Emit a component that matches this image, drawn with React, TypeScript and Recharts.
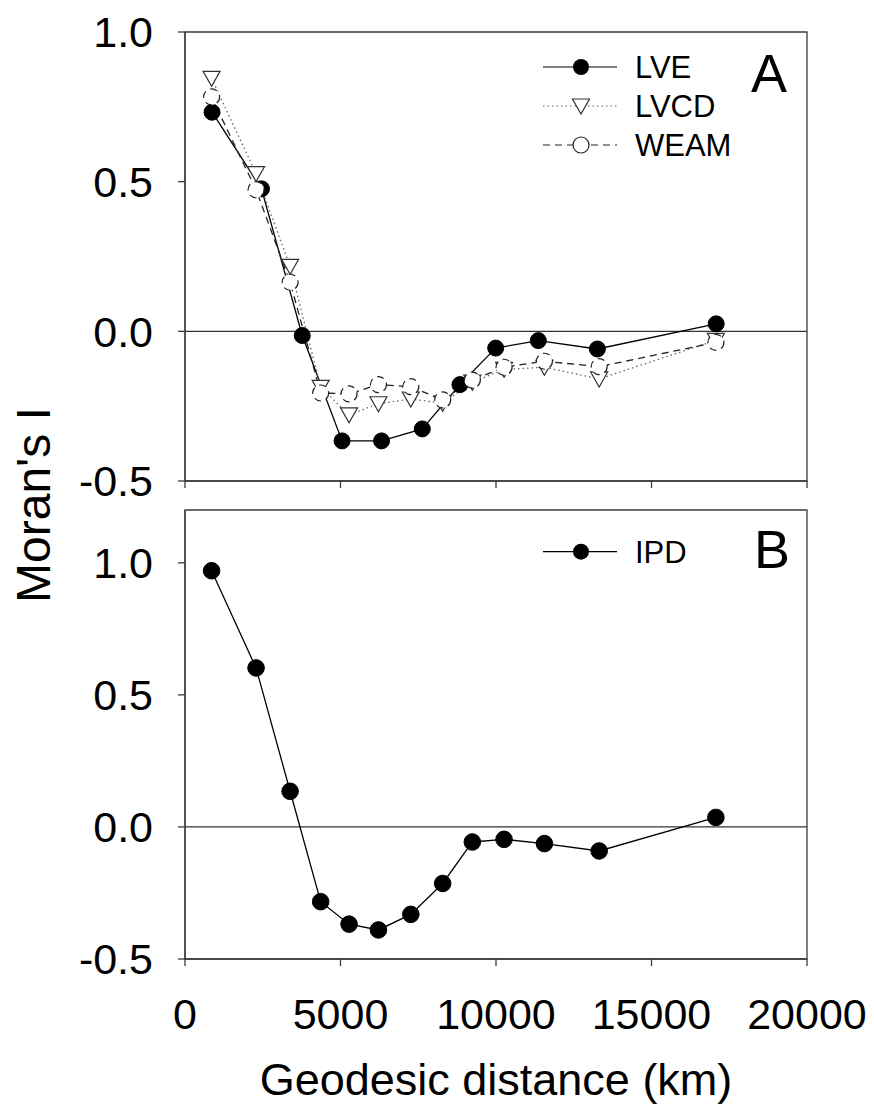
import React from 'react';
import {
  LineChart, Line, XAxis, YAxis, ReferenceLine, ReferenceArea, Legend,
} from 'recharts';

const FONT = '"Liberation Sans", Arial, Helvetica, sans-serif';

// distance classes (km)
const DIST_LVE = [870, 2460, 3770, 5050, 6320, 7630, 8840, 9990, 11360, 13260, 17080];
const DIST_13 = [855, 2285, 3380, 4362, 5275, 6220, 7260, 8285, 9239, 10259, 11557, 13317, 17070];

// Panel A series
const LVE = [0.732, 0.476, -0.014, -0.366, -0.366, -0.326, -0.178, -0.056, -0.031, -0.059, 0.025];
const LVCD = [0.845, 0.527, 0.217, -0.187, -0.279, -0.242, -0.226, -0.24, -0.17, -0.127, -0.12, -0.159, -0.03];
const WEAM = [0.783, 0.473, 0.164, -0.206, -0.209, -0.178, -0.185, -0.229, -0.163, -0.12, -0.1, -0.118, -0.037];

// Panel B series
const IPD = [0.97, 0.602, 0.135, -0.283, -0.368, -0.39, -0.331, -0.214, -0.057, -0.047, -0.063, -0.091, 0.036];

const X_TICKS = [0, 5000, 10000, 15000, 20000];
const Y_TICKS = [-0.5, 0, 0.5, 1];

const toPts = (xs: number[], ys: number[]) => xs.map((x, i) => ({ x, y: ys[i] }));

const lveData = toPts(DIST_LVE, LVE);
const lvcdData = toPts(DIST_13, LVCD);
const weamData = toPts(DIST_13, WEAM);
const ipdData = toPts(DIST_13, IPD);

const AXIS = '#3c3c3c';

const triPath = (cx: number, cy: number) =>
  `M${cx - 8.5},${cy - 7} L${cx + 8.5},${cy - 7} L${cx},${cy + 8} Z`;

const TriDot = (props: any) => {
  const { cx, cy, index } = props;
  if (cx == null || cy == null) return <g key={`t${index}`} />;
  return <path key={`t${index}`} d={triPath(cx, cy)} fill="#fff" stroke="#333" strokeWidth={1.2} />;
};

const legendA = () => {
  const rows = [
    { name: 'LVE', dash: undefined, stroke: '#000', kind: 'filled' },
    { name: 'LVCD', dash: '1.5 3', stroke: '#666', kind: 'tri' },
    { name: 'WEAM', dash: '7 5', stroke: '#222', kind: 'open' },
  ];
  return (
    <svg width={260} height={140} style={{ display: 'block' }}>
      {rows.map((r, i) => {
        const y = 27 + i * 39;
        return (
          <g key={r.name}>
            <line x1={8} x2={82} y1={y} y2={y} stroke={r.stroke} strokeWidth={1.2} strokeDasharray={r.dash} />
            {r.kind === 'filled' && <circle cx={46} cy={y} r={8} fill="#000" />}
            {r.kind === 'open' && <circle cx={46} cy={y} r={8} fill="#fff" stroke="#222" strokeWidth={1.2} />}
            {r.kind === 'tri' && <path d={triPath(46, y)} fill="#fff" stroke="#333" strokeWidth={1.2} />}
            <text x={100} y={y + 11.3} fontSize={31} fontFamily={FONT} fill="#000">{r.name}</text>
          </g>
        );
      })}
    </svg>
  );
};

const legendB = () => (
  <svg width={260} height={80} style={{ display: 'block' }}>
    <line x1={8} x2={82} y1={33.7} y2={33.7} stroke="#000" strokeWidth={1.2} />
    <circle cx={46} cy={33.7} r={8} fill="#000" />
    <text x={100} y={45.3} fontSize={31} fontFamily={FONT} fill="#000">IPD</text>
  </svg>
);

const tickStyle = { fontSize: 43, fill: '#000', fontFamily: FONT };
const fmtY = (v: number) => v.toFixed(1);

export default function App() {
  return (
    <div style={{ position: 'absolute', left: 0, top: 0, width: 874, height: 1106, background: '#fff' }}>
      <div style={{ position: 'absolute', left: 0, top: 0 }}>
        <LineChart width={874} height={505} margin={{ top: 32, right: 67, bottom: 0, left: 0 }}>
          <XAxis
            type="number" dataKey="x" domain={[0, 20000]} ticks={X_TICKS} allowDataOverflow interval={0}
            height={24} tickSize={7} tickFormatter={() => ''}
            stroke={AXIS} strokeWidth={1.3} tickLine={{ stroke: AXIS, strokeWidth: 1.3 }}
          />
          <YAxis
            type="number" domain={[-0.5, 1]} ticks={Y_TICKS} allowDataOverflow width={185} interval={0}
            tickSize={7} tickMargin={25} tick={tickStyle} tickFormatter={fmtY}
            stroke={AXIS} strokeWidth={1.3} tickLine={{ stroke: AXIS, strokeWidth: 1.3 }}
          />
          <ReferenceArea x1={0} x2={20000} y1={-0.5} y2={1} fill="none" fillOpacity={0} stroke={AXIS} strokeWidth={1.3} />
          <ReferenceLine y={0} stroke="#333" strokeWidth={1.2} />
          <Line data={lveData} dataKey="y" name="LVE" stroke="#000" strokeWidth={1.3}
            dot={{ r: 8, fill: '#000', stroke: '#000', strokeWidth: 1 }} isAnimationActive={false} />
          <Line data={lvcdData} dataKey="y" name="LVCD" stroke="#666" strokeWidth={1.3} strokeDasharray="1.5 3"
            dot={TriDot} isAnimationActive={false} />
          <Line data={weamData} dataKey="y" name="WEAM" stroke="#222" strokeWidth={1.3} strokeDasharray="7 5"
            dot={{ r: 8, fill: '#fff', stroke: '#222', strokeWidth: 1.2 }} isAnimationActive={false} />
          <Legend layout="vertical" align="center" verticalAlign="middle" content={legendA}
            wrapperStyle={{ position: 'absolute', left: 535, top: 40, width: 260, height: 140 }} />
        </LineChart>
      </div>
      <div style={{ position: 'absolute', left: 0, top: 505 }}>
        <LineChart width={874} height={601} margin={{ top: 5, right: 67, bottom: 47, left: 0 }}>
          <XAxis
            type="number" dataKey="x" domain={[0, 20000]} ticks={X_TICKS} allowDataOverflow interval={0}
            height={100} tickSize={7} tickMargin={32} tick={tickStyle}
            stroke={AXIS} strokeWidth={1.3} tickLine={{ stroke: AXIS, strokeWidth: 1.3 }}
          />
          <YAxis
            type="number" domain={[-0.5, 1.2]} ticks={Y_TICKS} allowDataOverflow width={185} interval={0}
            tickSize={7} tickMargin={25} tick={tickStyle} tickFormatter={fmtY}
            stroke={AXIS} strokeWidth={1.3} tickLine={{ stroke: AXIS, strokeWidth: 1.3 }}
          />
          <ReferenceArea x1={0} x2={20000} y1={-0.5} y2={1.2} fill="none" fillOpacity={0} stroke={AXIS} strokeWidth={1.3} />
          <ReferenceLine y={0} stroke="#333" strokeWidth={1.2} />
          <Line data={ipdData} dataKey="y" name="IPD" stroke="#000" strokeWidth={1.3}
            dot={{ r: 8.3, fill: '#000', stroke: '#000', strokeWidth: 1 }} isAnimationActive={false} />
          <Legend layout="vertical" align="center" verticalAlign="middle" content={legendB}
            wrapperStyle={{ position: 'absolute', left: 535, top: 13, width: 260, height: 80 }} />
        </LineChart>
      </div>
      <svg width={874} height={1106} style={{ position: 'absolute', left: 0, top: 0, pointerEvents: 'none' }}>
        <text x={751} y={91.7} fontSize={54} fontFamily={FONT} fill="#000">A</text>
        <text x={754} y={568.3} fontSize={54} fontFamily={FONT} fill="#000">B</text>
        <text transform="translate(50,505) rotate(-90)" textAnchor="middle" fontSize={48} fontFamily={FONT} fill="#000">Moran's I</text>
        <text x={496} y={1095} textAnchor="middle" fontSize={45} fontFamily={FONT} fill="#000">Geodesic distance (km)</text>
      </svg>
    </div>
  );
}
